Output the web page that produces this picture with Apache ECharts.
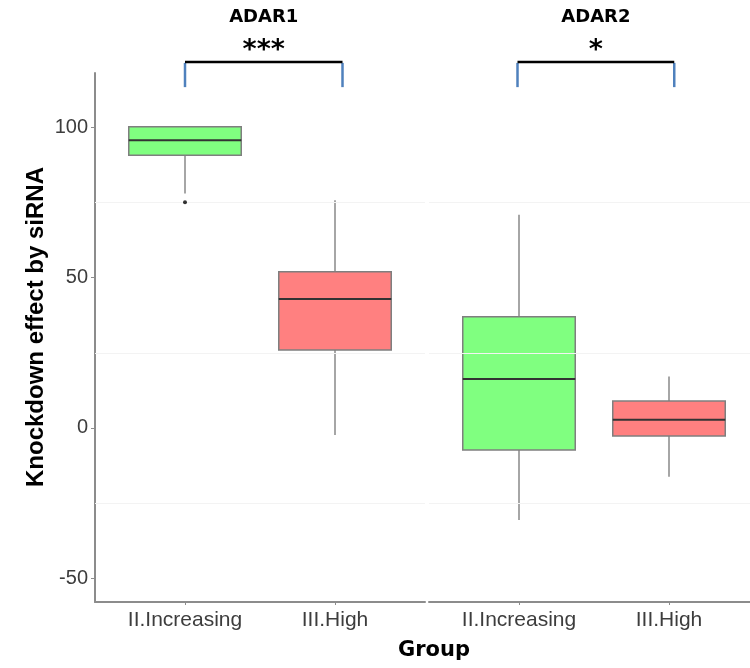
<!DOCTYPE html>
<html><head><meta charset="utf-8">
<script src="https://cdn.jsdelivr.net/npm/echarts@6/dist/echarts.min.js"></script>
<style>html,body{margin:0;padding:0;background:#fff}#c{width:750px;height:668px}</style>
</head><body><div id="c"></div>
<script>
// ---- data ----
const panels = ['ADAR1', 'ADAR2'];
const groups = ['II.Increasing', 'III.High'];
const groupColors = ['#80ff80', '#ff8080'];
// [min, Q1, median, Q3, max] for II.Increasing, III.High
const adar1Stats = [[78.0, 90.7, 95.7, 100.2, 100.2], [-2.3, 25.9, 42.9, 52.0, 75.8]];
const adar2Stats = [[-30.6, -7.3, 16.3, 37.0, 70.9], [-16.2, -2.7, 2.7, 9.0, 17.1]];
const adar1Outliers = [[1, 75.1]];
const adar2Outliers = [];
const significance = ['***', '*'];
const bracketX = [[1.0, 2.05], [0.99, 2.035]];
const bracketY = [121.8, 113.4];
const yTicks = [-50, 0, 50, 100];
const yMinorGrid = [75, 25, -25];
const yRange = [-57.9, 118.1];
// panel x ranges (the right panel is cut off by the picture edge)
const xRanges = [[0.4, 2.6], [0.4, 2.54]];

const statsByPanel = [adar1Stats, adar2Stats];
const outliersByPanel = [adar1Outliers, adar2Outliers];

function boxRender(params, api) {
  const x = api.value(0);
  const mn = api.value(1), q1 = api.value(2), md = api.value(3), q3 = api.value(4), mx = api.value(5);
  const ci = api.value(6);
  const half = api.size([0.75, 0])[0] / 2;
  const c = v => api.coord([x, v]);
  const pMin = c(mn), pQ1 = c(q1), pMd = c(md), pQ3 = c(q3), pMax = c(mx);
  const cx = pMd[0];
  return {
    type: 'group',
    children: [
      { type: 'line', shape: { x1: cx, y1: pQ3[1], x2: cx, y2: pMax[1] }, style: { stroke: '#a6a6a6', lineWidth: 2 } },
      { type: 'line', shape: { x1: cx, y1: pQ1[1], x2: cx, y2: pMin[1] }, style: { stroke: '#a6a6a6', lineWidth: 2 } },
      { type: 'rect', shape: { x: cx - half, y: pQ3[1], width: half * 2, height: pQ1[1] - pQ3[1] },
        style: { fill: groupColors[ci], stroke: '#7f7f7f', lineWidth: 1.5 } },
      { type: 'line', shape: { x1: cx - half, y1: pMd[1], x2: cx + half, y2: pMd[1] }, style: { stroke: '#333', lineWidth: 2 } }
    ]
  };
}

function bracketRender(params, api) {
  const pi = params.seriesIndex === 2 ? 0 : 1;
  const x1 = api.value(0), x2 = api.value(1);
  const pL = api.coord([x1, bracketY[0]]), pR = api.coord([x2, bracketY[0]]);
  const bL = api.coord([x1, bracketY[1]]);
  const midX = (pL[0] + pR[0]) / 2;
  return {
    type: 'group',
    children: [
      { type: 'line', shape: { x1: pL[0], y1: pL[1] + 1, x2: pL[0], y2: bL[1] }, style: { stroke: '#4f81bd', lineWidth: 2.5 } },
      { type: 'line', shape: { x1: pR[0], y1: pR[1] + 1, x2: pR[0], y2: bL[1] }, style: { stroke: '#4f81bd', lineWidth: 2.5 } },
      { type: 'line', shape: { x1: pL[0], y1: pL[1], x2: pR[0], y2: pR[1] }, style: { stroke: '#000', lineWidth: 2.5 } },
      { type: 'text', x: midX, y: pL[1] - 11, style: { text: significance[pi], fill: '#000', font: 'bold 27px "DejaVu Sans"', align: 'center', verticalAlign: 'middle' } },
      { type: 'text', x: midX, y: pL[1] - 45, style: { text: panels[pi], fill: '#000', font: 'bold 18px "DejaVu Sans"', align: 'center', verticalAlign: 'middle' } }
    ]
  };
}

const axisGray = '#8c8c8c';
const xAxes = [0, 1].map(i => ({
  type: 'value', gridIndex: i, min: xRanges[i][0], max: xRanges[i][1],
  axisLine: { show: true, onZero: false, lineStyle: { color: axisGray, width: 2 } },
  axisTick: { show: true, customValues: [1, 2], length: 3, lineStyle: { color: axisGray } },
  axisLabel: { show: true, customValues: [1, 2], formatter: v => groups[Math.round(v) - 1], fontSize: 21, color: '#3d3d3d', margin: 8, fontFamily: 'Liberation Sans' },
  splitLine: { show: false }
}));
const yAxes = [0, 1].map(i => ({
  type: 'value', gridIndex: i, min: yRange[0], max: yRange[1],
  axisLine: { show: i === 0, onZero: false, lineStyle: { color: axisGray, width: 2 } },
  axisTick: { show: i === 0, customValues: yTicks, length: 4, lineStyle: { color: axisGray } },
  axisLabel: { show: i === 0, customValues: yTicks, fontSize: 20, color: '#3d3d3d', margin: 7, fontFamily: 'Liberation Sans' },
  splitLine: { show: false }
}));

const series = [];
[0, 1].forEach(pi => {
  series.push({
    type: 'custom', xAxisIndex: pi, yAxisIndex: pi, renderItem: boxRender, clip: false,
    encode: { x: 0, y: [1, 2, 3, 4, 5] },
    data: statsByPanel[pi].map((s, gi) => [gi + 1, ...s, gi]),
    markLine: {
      silent: true, symbol: 'none', label: { show: false },
      lineStyle: { color: '#f3f3f3', type: 'solid', width: 1 },
      data: yMinorGrid.map(v => ({ yAxis: v }))
    },
    z: 3
  });
});
[0, 1].forEach(pi => {
  series.push({
    type: 'custom', xAxisIndex: pi, yAxisIndex: pi, renderItem: bracketRender, clip: false,
    encode: { x: [0, 1], y: 2 },
    data: [[bracketX[pi][0], bracketX[pi][1], bracketY[0]]],
    z: 5
  });
});
[0, 1].forEach(pi => {
  series.push({
    type: 'scatter', xAxisIndex: pi, yAxisIndex: pi, data: outliersByPanel[pi],
    symbolSize: 4, itemStyle: { color: '#000' }, z: 6
  });
});

const chart = echarts.init(document.getElementById('c'), null, { renderer: 'canvas' });
chart.setOption({
  animation: false,
  backgroundColor: '#fff',
  grid: [
    { left: 95, width: 330, top: 73, bottom: 66, outerBoundsMode: 'none' },
    { left: 429, right: 0, top: 73, bottom: 66, outerBoundsMode: 'none' }
  ],
  xAxis: xAxes,
  yAxis: yAxes,
  series: series,
  graphic: [
    { type: 'text', x: 36, y: 327, rotation: Math.PI / 2,
      style: { text: 'Knockdown effect by siRNA', font: 'bold 24px "Liberation Sans"', fill: '#000', align: 'center', verticalAlign: 'middle' } },
    { type: 'text', x: 434, y: 651,
      style: { text: 'Group', font: 'bold 21px "DejaVu Sans"', fill: '#000', align: 'center', verticalAlign: 'middle' } }
  ]
});
</script>
</body></html>
